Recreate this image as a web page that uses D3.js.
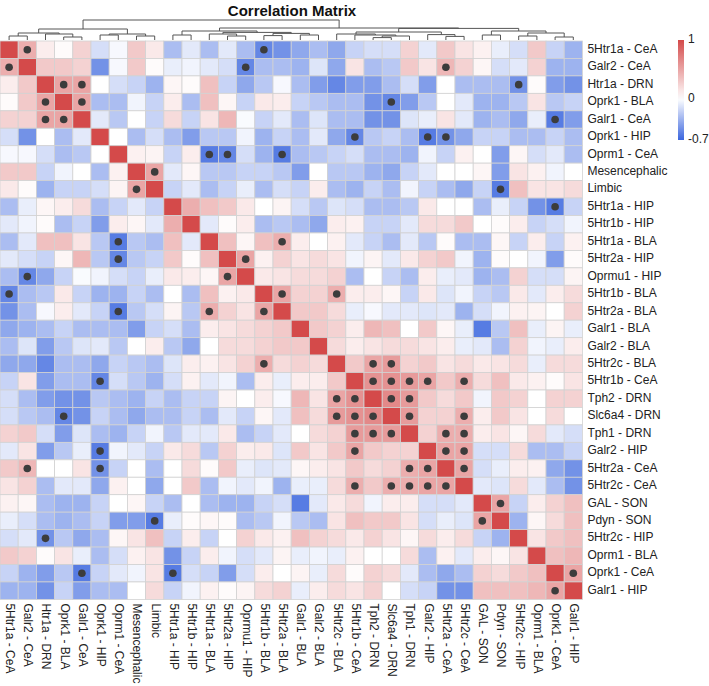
<!DOCTYPE html>
<html>
<head>
<meta charset="utf-8">
<script src="https://cdn.jsdelivr.net/npm/d3@7"></script>
<style>
  body { margin: 0; background: #fff; }
  text { font-family: Arial, "Liberation Sans", sans-serif; }
</style>
</head>
<body>
<div id="chart"></div>
<script>
// Variable names, same order for rows and columns
const labels = [
  "5Htr1a - CeA", "Galr2 - CeA", "Htr1a - DRN", "Oprk1 - BLA", "Galr1 - CeA",
  "Oprk1 - HIP", "Oprm1 - CeA", "Mesencephalic", "Limbic", "5Htr1a - HIP",
  "5Htr1b - HIP", "5Htr1a - BLA", "5Htr2a - HIP", "Oprmu1 - HIP", "5Htr1b - BLA",
  "5Htr2a - BLA", "Galr1 - BLA", "Galr2 - BLA", "5Htr2c - BLA", "5Htr1b - CeA",
  "Tph2 - DRN", "Slc6a4 - DRN", "Tph1 - DRN", "Galr2 - HIP", "5Htr2a - CeA",
  "5Htr2c - CeA", "GAL - SON", "Pdyn - SON", "5Htr2c - HIP", "Oprm1 - BLA",
  "Oprk1 - CeA", "Galr1 - HIP"
];

// Upper triangle of the correlation matrix: row i holds columns i+1 .. n-1
const upper = [
  [0.45, 0.1, 0.02, 0.25, -0.15, -0.03, 0.3, 0.12, -0.3, -0.1, -0.3, -0.1, -0.3, -0.55, -0.5, -0.4, -0.3, -0.4, -0.2, -0.15, -0.15, 0.25, -0.1, 0.3, 0.15, 0.08, -0.08, -0.15, 0.3, -0.2, -0.35],
  [0.3, 0.3, 0.25, -0.5, -0.03, 0.3, 0.02, -0.08, -0.05, -0.1, -0.15, -0.55, -0.3, -0.3, -0.35, -0.12, -0.4, 0.15, -0.3, -0.25, 0.3, 0.15, 0.4, 0.25, 0.05, -0.15, -0.1, 0.25, -0.35, -0.35],
  [0.5, 0.5, 0, -0.15, -0.2, -0.35, 0.05, 0.02, 0.35, -0.2, -0.4, -0.25, -0.03, -0.3, -0.45, -0.55, -0.45, -0.45, -0.3, -0.15, -0.45, 0, -0.3, -0.3, -0.3, -0.5, 0.02, -0.45, -0.5],
  [0.5, -0.3, -0.3, -0.05, -0.2, 0.1, -0.3, 0.35, 0.05, -0.2, 0.12, 0.1, -0.2, -0.25, -0.3, -0.3, -0.5, -0.55, -0.45, -0.25, 0, -0.1, -0.35, -0.35, -0.25, 0.15, -0.25, -0.2],
  [-0.1, -0.25, 0, -0.2, 0.2, -0.2, 0.15, 0.4, -0.02, -0.2, -0.1, -0.3, -0.12, -0.3, -0.3, -0.5, -0.5, -0.12, -0.08, 0.15, -0.1, -0.35, -0.3, -0.4, -0.08, -0.6, -0.45],
  [0, -0.3, -0.15, -0.3, -0.45, -0.25, -0.25, -0.05, -0.35, -0.2, -0.3, -0.1, -0.4, -0.55, -0.25, -0.2, -0.3, -0.6, -0.5, -0.4, -0.2, -0.2, -0.3, -0.3, -0.2, -0.3],
  [0.08, 0.06, -0.2, 0.1, -0.6, -0.55, -0.15, -0.35, -0.6, -0.3, -0.25, -0.2, -0.15, -0.3, -0.3, -0.35, -0.05, -0.2, 0.08, 0, -0.45, 0.05, -0.15, -0.1, -0.3],
  [0.5, -0.1, 0.05, -0.25, -0.25, -0.2, -0.2, -0.25, -0.45, 0, -0.25, -0.25, -0.35, -0.4, -0.2, -0.1, 0, 0, 0.05, -0.45, 0.15, 0.08, -0.05, 0],
  [-0.2, -0.1, -0.3, -0.2, -0.08, -0.3, -0.15, -0.2, 0.1, -0.3, -0.35, -0.2, -0.3, -0.05, -0.2, -0.3, -0.4, -0.2, -0.6, 0.35, 0.15, 0.15, 0.2],
  [0.45, 0.35, 0.3, 0.12, 0, 0.06, -0.15, -0.25, -0.12, -0.15, -0.3, -0.3, -0.25, 0.12, 0, 0, -0.3, -0.08, -0.2, -0.5, -0.6, -0.2],
  [-0.1, 0.02, 0.1, -0.3, -0.25, -0.3, -0.4, 0.1, 0.08, -0.2, -0.2, -0.1, 0.2, 0.2, 0.3, 0, 0.02, 0.1, -0.2, -0.15, -0.05],
  [0.35, 0.05, 0.35, 0.45, 0.1, 0, 0.08, -0.1, -0.2, -0.3, -0.1, -0.25, 0.02, -0.3, -0.3, 0.05, -0.2, 0.1, -0.2, 0.08],
  [0.5, 0.08, 0.25, 0.15, 0.2, 0.15, -0.05, 0.06, -0.1, 0.12, 0.25, 0.3, -0.05, -0.35, 0.02, 0, -0.05, -0.45, 0.02],
  [0.12, 0.15, 0.2, 0.2, 0.25, -0.3, 0, -0.2, -0.3, 0.1, -0.08, -0.1, -0.35, -0.3, 0.25, -0.15, -0.15, 0.06],
  [0.5, 0.25, 0.25, 0.45, 0.1, 0.1, 0.05, -0.2, 0.12, -0.12, -0.05, -0.2, -0.25, 0.12, -0.1, 0.1, 0.2],
  [0.3, 0.3, 0.2, -0.08, -0.03, -0.1, -0.1, -0.12, -0.1, -0.35, -0.15, -0.05, 0.08, 0.06, 0, 0.25],
  [0.3, 0.25, 0.1, 0.4, 0.35, 0, 0.3, 0.05, -0.08, -0.6, -0.25, 0.35, -0.08, 0.06, -0.08],
  [0.2, 0.1, 0.15, 0.2, 0.2, 0.15, 0.1, -0.08, -0.1, -0.3, 0.25, -0.05, -0.08, 0.1],
  [0.3, 0.5, 0.55, 0.25, 0.3, 0.15, 0.2, 0.12, 0.15, 0.2, -0.08, 0.2, 0.2],
  [0.6, 0.6, 0.55, 0.5, 0.3, 0.45, 0.2, 0.35, 0.12, 0.08, 0.02, 0.15],
  [0.65, 0.55, 0.3, 0.2, 0.3, -0.05, 0.3, 0.25, 0, 0.25, 0.25],
  [0.55, 0.25, 0.25, 0.45, 0.1, 0.3, 0.15, 0, 0.2, 0],
  [0.25, 0.45, 0.45, 0.1, 0.15, 0.05, 0.2, -0.1, -0.15],
  [0.5, 0.5, -0.15, -0.15, 0.2, -0.3, -0.3, -0.2],
  [0.5, -0.15, -0.08, 0.1, 0.08, -0.4, -0.5],
  [-0.1, -0.12, 0.2, -0.1, -0.3, -0.5],
  [0.5, -0.2, 0.1, 0.25, 0.35],
  [-0.35, 0.05, 0.2, 0.35],
  [0.15, 0.3, 0.35],
  [0.35, 0.4],
  [0.5],
  []
];

// Significant pairs (marked with a dot, both halves)
const signif = [
  [0, 1], [0, 14], [1, 13], [1, 24], [2, 3], [2, 4], [2, 28], [3, 4], [3, 21],
  [4, 30], [5, 19], [5, 23], [5, 24], [6, 11], [6, 12], [6, 15], [7, 8], [8, 27],
  [9, 30], [11, 15], [12, 13], [14, 15], [14, 18], [18, 20], [18, 21],
  [19, 20], [19, 21], [19, 22], [19, 23], [19, 25], [20, 21], [20, 22],
  [21, 22], [21, 25], [22, 24], [22, 25], [23, 24], [23, 25], [24, 25],
  [26, 27], [30, 31]
];

// Column dendrogram: [height, left, right], leaves are column indices
const tree = [1.0,
  [0.55,
    [0.35, [0.2, 0, 1], [0.3, 2, [0.15, 3, 4]]],
    [0.3, [0.25, 5, 6], [0.2, 7, 8]]],
  [0.6,
    [0.45, [0.25, 9, 10],
      [0.38, [0.3, 11, [0.2, 12, 13]], [0.33, [0.22, 14, 15], [0.25, 16, 17]]]],
    [0.58,
      [0.4, [0.3, 18, [0.25, 19, [0.2, [0.12, 20, 21], 22]]], [0.27, 23, [0.18, 24, 25]]],
      [0.45, [0.25, 26, 27], [0.35, [0.2, 28, 29], [0.15, 30, 31]]]]]
];

const legendTicks = [1, 0, -0.7];

const width = 709, height = 686;
const gridLeft = 0, gridRight = 582.4, gridTop = 41, gridBottom = 599.4;
const n = labels.length;

// Full symmetric matrix
const matrix = labels.map((_, i) => labels.map((_, j) => {
  if (i === j) return 1;
  return i < j ? upper[i][j - i - 1] : upper[j][i - j - 1];
}));

const svg = d3.select("#chart").append("svg")
  .attr("width", width)
  .attr("height", height);

const x = d3.scaleBand().domain(d3.range(n)).range([gridLeft, gridRight]);
const y = d3.scaleBand().domain(d3.range(n)).range([gridTop, gridBottom]);
const color = d3.scaleLinear()
  .domain([-0.7, 0, 1])
  .range(["#3b66de", "#ffffff", "#d44a4a"]);

// Title
svg.append("text")
  .attr("x", 292)
  .attr("y", 16)
  .attr("text-anchor", "middle")
  .attr("font-size", 15)
  .attr("font-weight", "bold")
  .attr("fill", "#111")
  .text("Correlation Matrix");

// Heatmap cells
const cells = [];
matrix.forEach((row, i) => row.forEach((v, j) => cells.push({ i, j, v })));

svg.append("g")
  .selectAll("rect")
  .data(cells)
  .join("rect")
  .attr("x", d => x(d.j))
  .attr("y", d => y(d.i))
  .attr("width", x.bandwidth())
  .attr("height", y.bandwidth())
  .attr("fill", d => color(d.v))
  .attr("stroke", "#d2d2d2")
  .attr("stroke-width", 0.8);

// Significance dots
const dots = signif.flatMap(([a, b]) => [[a, b], [b, a]]);
svg.append("g")
  .selectAll("circle")
  .data(dots)
  .join("circle")
  .attr("cx", d => x(d[1]) + x.bandwidth() / 2)
  .attr("cy", d => y(d[0]) + y.bandwidth() / 2)
  .attr("r", 3.8)
  .attr("fill", "#3c3c3c");

// Row labels (right)
svg.append("g")
  .selectAll("text")
  .data(labels)
  .join("text")
  .attr("x", gridRight + 5)
  .attr("y", (d, i) => y(i) + y.bandwidth() / 2)
  .attr("dominant-baseline", "middle")
  .attr("font-size", 12)
  .attr("fill", "#222")
  .text(d => d);

// Column labels (bottom, rotated)
svg.append("g")
  .selectAll("text")
  .data(labels)
  .join("text")
  .attr("transform", (d, i) => `translate(${x(i) + x.bandwidth() / 2},${gridBottom + 4}) rotate(90)`)
  .attr("dominant-baseline", "middle")
  .attr("font-size", 12)
  .attr("fill", "#222")
  .text(d => d);

// Dendrogram
const hy = d3.scaleLinear().domain([0, 1]).range([gridTop - 1, 20]);
const dendro = svg.append("g")
  .attr("fill", "none")
  .attr("stroke", "#555")
  .attr("stroke-width", 1);

function drawNode(node) {
  if (typeof node === "number") {
    return { x: x(node) + x.bandwidth() / 2, y: hy(0) };
  }
  const [h, a, b] = node;
  const l = drawNode(a);
  const r = drawNode(b);
  const yn = hy(h);
  dendro.append("path")
    .attr("d", `M${l.x},${l.y}V${yn}H${r.x}V${r.y}`);
  return { x: (l.x + r.x) / 2, y: yn };
}
drawNode(tree);

// Colour legend
const legendX = 678, legendTop = 40, legendH = 100, legendW = 6;
const defs = svg.append("defs");
const grad = defs.append("linearGradient")
  .attr("id", "legend-grad")
  .attr("x1", 0).attr("y1", 0).attr("x2", 0).attr("y2", 1);
const ly = d3.scaleLinear().domain([1, -0.7]).range([legendTop, legendTop + legendH]);
d3.range(0, 11).forEach(k => {
  const v = 1 - k * 0.17;
  grad.append("stop")
    .attr("offset", `${(ly(v) - legendTop) / legendH * 100}%`)
    .attr("stop-color", color(v));
});
svg.append("rect")
  .attr("x", legendX)
  .attr("y", legendTop)
  .attr("width", legendW)
  .attr("height", legendH)
  .attr("fill", "url(#legend-grad)");

svg.append("g")
  .selectAll("text")
  .data(legendTicks)
  .join("text")
  .attr("x", legendX + legendW + 4)
  .attr("y", d => ly(d))
  .attr("dominant-baseline", "middle")
  .attr("font-size", 12)
  .attr("fill", "#222")
  .text(d => d);
</script>
</body>
</html>
